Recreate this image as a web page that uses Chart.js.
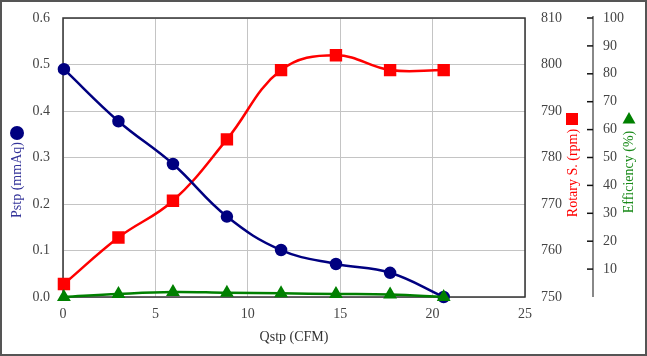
<!DOCTYPE html>
<html>
<head>
<meta charset="utf-8">
<script src="https://cdn.jsdelivr.net/npm/chart.js@4/dist/chart.umd.min.js"></script>
<style>
html,body{margin:0;padding:0;background:#fff;}
#wrap{width:647px;height:356px;position:relative;}
</style>
</head>
<body>
<div id="wrap"><canvas id="c" width="647" height="356"></canvas></div>
<script>
// ---- data ----
const qstp = [0.05, 3.0, 5.95, 8.87, 11.8, 14.77, 17.7, 20.6];          // CFM
const pstp = [0.490, 0.378, 0.286, 0.173, 0.101, 0.071, 0.052, 0.0];   // mmAq
const rotary = [752.8, 762.8, 770.7, 783.9, 798.8, 802.0, 798.8, 798.8]; // rpm
const efficiency = [0.0, 1.1, 1.8, 1.5, 1.3, 1.1, 0.9, 0.0];          // %

const xTitle = 'Qstp (CFM)';
const pTitle = 'Pstp (mmAq)';
const rTitle = 'Rotary S. (rpm)';
const eTitle = 'Efficiency (%)';

const FONT = "'Liberation Serif', 'Times New Roman', serif";
const pts = ys => qstp.map((x, i) => ({x: x, y: ys[i]}));

const deco = {
  id: 'deco',
  beforeDraw(chart) {
    const ctx = chart.ctx;
    ctx.save();
    ctx.fillStyle = '#fff';
    ctx.fillRect(0, 0, chart.width, chart.height);
    ctx.restore();
  },
  beforeDatasetsDraw(chart) {
    const ctx = chart.ctx, a = chart.chartArea;
    ctx.save();
    ctx.strokeStyle = '#333';
    ctx.lineWidth = 1.5;
    ctx.strokeRect(a.left, a.top, a.right - a.left, a.bottom - a.top);
    // efficiency axis line + inward ticks
    const s = chart.scales.y2;
    ctx.strokeStyle = '#888';
    ctx.lineWidth = 2;
    ctx.beginPath();
    ctx.moveTo(s.left, s.getPixelForValue(100) - 2);
    ctx.lineTo(s.left, s.getPixelForValue(0));
    ctx.stroke();
    ctx.strokeStyle = '#111';
    ctx.lineWidth = 1.5;
    s.ticks.forEach(t => {
      if (t.value === 0) return;
      const y = s.getPixelForValue(t.value);
      ctx.beginPath();
      ctx.moveTo(s.left - 6, y);
      ctx.lineTo(s.left, y);
      ctx.stroke();
    });
    ctx.restore();
  },
  afterDraw(chart) {
    const ctx = chart.ctx, a = chart.chartArea;
    ctx.save();
    ctx.font = '14px ' + FONT;
    ctx.textAlign = 'center';
    ctx.textBaseline = 'middle';
    // x title
    ctx.fillStyle = '#333';
    ctx.fillText(xTitle, (a.left + a.right) / 2, 337);
    const vt = (txt, x, y, col) => {
      ctx.save();
      ctx.translate(x, y);
      ctx.rotate(-Math.PI / 2);
      ctx.fillStyle = col;
      ctx.fillText(txt, 0, 0);
      ctx.restore();
    };
    vt(pTitle, 17.5, 180, '#333399');
    vt(rTitle, 573, 173, '#ff0000');
    vt(eTitle, 629, 172, '#1a8a1a');
    // legend-like markers beside titles
    ctx.fillStyle = '#000080';
    ctx.beginPath();
    ctx.arc(17, 133, 7, 0, Math.PI * 2);
    ctx.fill();
    ctx.fillStyle = '#ff0000';
    ctx.fillRect(566, 113, 12, 12);
    ctx.fillStyle = '#008000';
    ctx.beginPath();
    ctx.moveTo(629, 112);
    ctx.lineTo(635.5, 123.5);
    ctx.lineTo(622.5, 123.5);
    ctx.closePath();
    ctx.fill();
    // outer frame
    ctx.strokeStyle = '#555';
    ctx.lineWidth = 2;
    ctx.strokeRect(1, 1, chart.width - 2, chart.height - 2);
    ctx.restore();
  }
};

const tickFont = {family: FONT, size: 14};
const tickColor = '#444';
const fitV = w => s => { s.width = w; s.paddingTop = 0; s.paddingBottom = 0; };

new Chart(document.getElementById('c'), {
  type: 'line',
  data: {
    datasets: [
      {
        label: 'Efficiency',
        data: pts(efficiency),
        yAxisID: 'y2',
        borderColor: '#008000',
        backgroundColor: '#008000',
        borderWidth: 2.5,
        pointStyle: 'triangle',
        pointRadius: 5.5,
        pointHoverRadius: 5.5,
        tension: 0.4,
        clip: false
      },
      {
        label: 'Pstp',
        data: pts(pstp),
        yAxisID: 'y',
        borderColor: '#000080',
        backgroundColor: '#000080',
        borderWidth: 2.5,
        pointStyle: 'circle',
        pointRadius: 5,
        pointHoverRadius: 5,
        tension: 0.4,
        clip: false
      },
      {
        label: 'Rotary S.',
        data: pts(rotary),
        yAxisID: 'y1',
        borderColor: '#ff0000',
        backgroundColor: '#ff0000',
        borderWidth: 2.5,
        pointStyle: 'rect',
        pointRadius: 7,
        pointHoverRadius: 7,
        tension: 0.4,
        clip: false
      }
    ]
  },
  options: {
    responsive: false,
    animation: false,
    events: [],
    layout: {padding: {left: 0, right: 0, top: 18, bottom: 0}},
    plugins: {legend: {display: false}, tooltip: {enabled: false}},
    scales: {
      x: {
        type: 'linear',
        min: 0, max: 25,
        afterFit: s => { s.height = 59; s.paddingLeft = 0; s.paddingRight = 0; },
        ticks: {stepSize: 5, font: tickFont, color: tickColor, padding: 9, maxRotation: 0},
        grid: {color: '#c4c4c4', lineWidth: 1, drawTicks: false},
        border: {display: false}
      },
      y: {
        position: 'left',
        min: 0, max: 0.6,
        afterFit: fitV(63),
        ticks: {stepSize: 0.1, font: tickFont, color: tickColor, padding: 13,
                callback: v => Number(v).toFixed(1)},
        grid: {color: '#c4c4c4', lineWidth: 1, drawTicks: false},
        border: {display: false}
      },
      y1: {
        position: 'right',
        min: 750, max: 810,
        afterFit: fitV(68),
        ticks: {stepSize: 10, font: tickFont, color: tickColor, padding: 16},
        grid: {drawOnChartArea: false, drawTicks: false},
        border: {display: false}
      },
      y2: {
        position: 'right',
        min: 0, max: 100,
        afterFit: fitV(54),
        ticks: {stepSize: 10, font: tickFont, color: tickColor, padding: 10,
                callback: v => (v === 0 ? '' : v)},
        grid: {drawOnChartArea: false, drawTicks: false},
        border: {display: false}
      }
    }
  },
  plugins: [deco]
});
</script>
</body>
</html>
